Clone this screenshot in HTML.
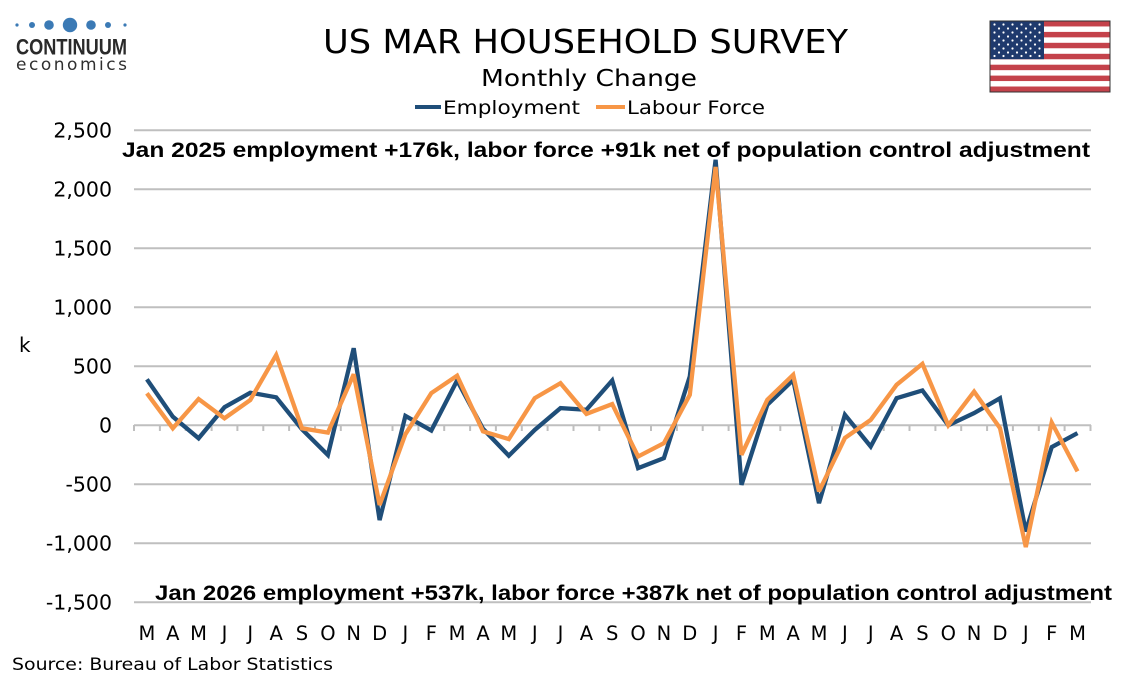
<!DOCTYPE html>
<html>
<head>
<meta charset="utf-8">
<style>
html,body{margin:0;padding:0;background:#fff;}
svg{display:block;}
</style>
</head>
<body>
<svg width="1134" height="680" viewBox="0 0 1134 680" xmlns="http://www.w3.org/2000/svg">
<rect width="1134" height="680" fill="#fff"/>

<!-- Logo -->
<g fill="#3b7ab5">
<circle cx="17" cy="25" r="1.6"/>
<circle cx="32" cy="25" r="3"/>
<circle cx="49" cy="25" r="4.8"/>
<circle cx="70" cy="25" r="7.2"/>
<circle cx="91" cy="25" r="4.8"/>
<circle cx="108" cy="25" r="3"/>
<circle cx="125" cy="25" r="1.6"/>
</g>
<text x="16" y="54.5" font-family="Liberation Sans, sans-serif" font-weight="bold" font-size="22" fill="#2a2a2a" textLength="111" lengthAdjust="spacingAndGlyphs">CONTINUUM</text>
<text x="16" y="70" font-family="DejaVu Sans, sans-serif" font-size="17" fill="#2f2f2f" textLength="111" lengthAdjust="spacing">economics</text>

<!-- Flag -->
<g>
<rect x="990" y="21" width="120" height="71" fill="#fff" stroke="#333" stroke-width="1"/>
<g fill="#c4424b">
<rect x="990" y="21" width="120" height="5.46"/>
<rect x="990" y="31.9" width="120" height="5.46"/>
<rect x="990" y="42.8" width="120" height="5.46"/>
<rect x="990" y="53.8" width="120" height="5.46"/>
<rect x="990" y="64.7" width="120" height="5.46"/>
<rect x="990" y="75.6" width="120" height="5.46"/>
<rect x="990" y="86.5" width="120" height="5.46"/>
</g>
<rect x="990" y="21" width="54" height="38.2" fill="#1f3a6d"/>
<g fill="#fff">
<circle cx="994.5" cy="24.5" r="1.1"/><circle cx="1003.5" cy="24.5" r="1.1"/><circle cx="1012.5" cy="24.5" r="1.1"/><circle cx="1021.5" cy="24.5" r="1.1"/><circle cx="1030.5" cy="24.5" r="1.1"/><circle cx="1039.5" cy="24.5" r="1.1"/>
<circle cx="999" cy="28.5" r="1.1"/><circle cx="1008" cy="28.5" r="1.1"/><circle cx="1017" cy="28.5" r="1.1"/><circle cx="1026" cy="28.5" r="1.1"/><circle cx="1035" cy="28.5" r="1.1"/>
<circle cx="994.5" cy="32.5" r="1.1"/><circle cx="1003.5" cy="32.5" r="1.1"/><circle cx="1012.5" cy="32.5" r="1.1"/><circle cx="1021.5" cy="32.5" r="1.1"/><circle cx="1030.5" cy="32.5" r="1.1"/><circle cx="1039.5" cy="32.5" r="1.1"/>
<circle cx="999" cy="36.5" r="1.1"/><circle cx="1008" cy="36.5" r="1.1"/><circle cx="1017" cy="36.5" r="1.1"/><circle cx="1026" cy="36.5" r="1.1"/><circle cx="1035" cy="36.5" r="1.1"/>
<circle cx="994.5" cy="40.5" r="1.1"/><circle cx="1003.5" cy="40.5" r="1.1"/><circle cx="1012.5" cy="40.5" r="1.1"/><circle cx="1021.5" cy="40.5" r="1.1"/><circle cx="1030.5" cy="40.5" r="1.1"/><circle cx="1039.5" cy="40.5" r="1.1"/>
<circle cx="999" cy="44.5" r="1.1"/><circle cx="1008" cy="44.5" r="1.1"/><circle cx="1017" cy="44.5" r="1.1"/><circle cx="1026" cy="44.5" r="1.1"/><circle cx="1035" cy="44.5" r="1.1"/>
<circle cx="994.5" cy="48.5" r="1.1"/><circle cx="1003.5" cy="48.5" r="1.1"/><circle cx="1012.5" cy="48.5" r="1.1"/><circle cx="1021.5" cy="48.5" r="1.1"/><circle cx="1030.5" cy="48.5" r="1.1"/><circle cx="1039.5" cy="48.5" r="1.1"/>
<circle cx="999" cy="52.5" r="1.1"/><circle cx="1008" cy="52.5" r="1.1"/><circle cx="1017" cy="52.5" r="1.1"/><circle cx="1026" cy="52.5" r="1.1"/><circle cx="1035" cy="52.5" r="1.1"/>
<circle cx="994.5" cy="56" r="1.1"/><circle cx="1003.5" cy="56" r="1.1"/><circle cx="1012.5" cy="56" r="1.1"/><circle cx="1021.5" cy="56" r="1.1"/><circle cx="1030.5" cy="56" r="1.1"/><circle cx="1039.5" cy="56" r="1.1"/>
</g>
<rect x="990" y="21" width="120" height="71" fill="none" stroke="#333" stroke-width="1"/>
</g>

<!-- Titles -->
<text x="585.5" y="53" text-anchor="middle" font-family="DejaVu Sans, Verdana, sans-serif" font-size="33" fill="#000" textLength="525" lengthAdjust="spacingAndGlyphs">US MAR HOUSEHOLD SURVEY</text>
<text x="589" y="86" text-anchor="middle" font-family="DejaVu Sans, Verdana, sans-serif" font-size="23" fill="#000" textLength="216" lengthAdjust="spacingAndGlyphs">Monthly Change</text>

<!-- Legend -->
<line x1="415" y1="107" x2="441" y2="107" stroke="#1f4e79" stroke-width="4"/>
<text x="443" y="114" font-family="DejaVu Sans, Verdana, sans-serif" font-size="19" fill="#000" textLength="137" lengthAdjust="spacingAndGlyphs">Employment</text>
<line x1="596" y1="107" x2="625" y2="107" stroke="#f79646" stroke-width="4"/>
<text x="627" y="114" font-family="DejaVu Sans, Verdana, sans-serif" font-size="19" fill="#000" textLength="138" lengthAdjust="spacingAndGlyphs">Labour Force</text>

<!-- Gridlines -->
<g stroke="#bfbfbf" stroke-width="2">
<line x1="134" y1="130.3" x2="1091" y2="130.3"/>
<line x1="134" y1="189.3" x2="1091" y2="189.3"/>
<line x1="134" y1="248.3" x2="1091" y2="248.3"/>
<line x1="134" y1="307.3" x2="1091" y2="307.3"/>
<line x1="134" y1="366.3" x2="1091" y2="366.3"/>
<line x1="134" y1="425.3" x2="1091" y2="425.3"/>
<line x1="134" y1="484.3" x2="1091" y2="484.3"/>
<line x1="134" y1="543.3" x2="1091" y2="543.3"/>
<line x1="134" y1="602.3" x2="1091" y2="602.3"/>
</g>
<!-- Tick marks on zero axis -->
<g stroke="#bfbfbf" stroke-width="2">
<line x1="134" y1="425" x2="134" y2="431"/>
<line x1="159.9" y1="425" x2="159.9" y2="431"/>
<line x1="185.7" y1="425" x2="185.7" y2="431"/>
<line x1="211.6" y1="425" x2="211.6" y2="431"/>
<line x1="237.4" y1="425" x2="237.4" y2="431"/>
<line x1="263.3" y1="425" x2="263.3" y2="431"/>
<line x1="289.1" y1="425" x2="289.1" y2="431"/>
<line x1="315" y1="425" x2="315" y2="431"/>
<line x1="340.8" y1="425" x2="340.8" y2="431"/>
<line x1="366.7" y1="425" x2="366.7" y2="431"/>
<line x1="392.5" y1="425" x2="392.5" y2="431"/>
<line x1="418.4" y1="425" x2="418.4" y2="431"/>
<line x1="444.2" y1="425" x2="444.2" y2="431"/>
<line x1="470.1" y1="425" x2="470.1" y2="431"/>
<line x1="495.9" y1="425" x2="495.9" y2="431"/>
<line x1="521.8" y1="425" x2="521.8" y2="431"/>
<line x1="547.6" y1="425" x2="547.6" y2="431"/>
<line x1="573.5" y1="425" x2="573.5" y2="431"/>
<line x1="599.3" y1="425" x2="599.3" y2="431"/>
<line x1="625.2" y1="425" x2="625.2" y2="431"/>
<line x1="651" y1="425" x2="651" y2="431"/>
<line x1="676.9" y1="425" x2="676.9" y2="431"/>
<line x1="702.7" y1="425" x2="702.7" y2="431"/>
<line x1="728.6" y1="425" x2="728.6" y2="431"/>
<line x1="754.4" y1="425" x2="754.4" y2="431"/>
<line x1="780.3" y1="425" x2="780.3" y2="431"/>
<line x1="806.1" y1="425" x2="806.1" y2="431"/>
<line x1="832" y1="425" x2="832" y2="431"/>
<line x1="857.8" y1="425" x2="857.8" y2="431"/>
<line x1="883.7" y1="425" x2="883.7" y2="431"/>
<line x1="909.5" y1="425" x2="909.5" y2="431"/>
<line x1="935.4" y1="425" x2="935.4" y2="431"/>
<line x1="961.2" y1="425" x2="961.2" y2="431"/>
<line x1="987.1" y1="425" x2="987.1" y2="431"/>
<line x1="1012.9" y1="425" x2="1012.9" y2="431"/>
<line x1="1038.8" y1="425" x2="1038.8" y2="431"/>
<line x1="1064.6" y1="425" x2="1064.6" y2="431"/>
<line x1="1090.5" y1="425" x2="1090.5" y2="431"/>
</g>

<!-- Y axis labels -->
<g font-family="DejaVu Sans, Verdana, sans-serif" font-size="20.5" fill="#000" text-anchor="end">
<text x="112" y="137.6">2,500</text>
<text x="112" y="196.6">2,000</text>
<text x="112" y="255.6">1,500</text>
<text x="112" y="314.6">1,000</text>
<text x="112" y="373.6">500</text>
<text x="112" y="432.6">0</text>
<text x="112" y="491.6">-500</text>
<text x="112" y="550.6">-1,000</text>
<text x="112" y="609.6">-1,500</text>
</g>
<text x="19" y="352" font-family="DejaVu Sans, Verdana, sans-serif" font-size="20" fill="#000">k</text>

<!-- X axis labels -->
<g font-family="DejaVu Sans, Verdana, sans-serif" font-size="19.5" fill="#000" text-anchor="middle">
<text x="146.9" y="640">M</text>
<text x="172.8" y="640">A</text>
<text x="198.6" y="640">M</text>
<text x="224.5" y="640">J</text>
<text x="250.3" y="640">J</text>
<text x="276.2" y="640">A</text>
<text x="302" y="640">S</text>
<text x="327.9" y="640">O</text>
<text x="353.7" y="640">N</text>
<text x="379.6" y="640">D</text>
<text x="405.4" y="640">J</text>
<text x="431.3" y="640">F</text>
<text x="457.1" y="640">M</text>
<text x="483" y="640">A</text>
<text x="508.8" y="640">M</text>
<text x="534.7" y="640">J</text>
<text x="560.5" y="640">J</text>
<text x="586.4" y="640">A</text>
<text x="612.2" y="640">S</text>
<text x="638.1" y="640">O</text>
<text x="663.9" y="640">N</text>
<text x="689.8" y="640">D</text>
<text x="715.6" y="640">J</text>
<text x="741.5" y="640">F</text>
<text x="767.3" y="640">M</text>
<text x="793.2" y="640">A</text>
<text x="819" y="640">M</text>
<text x="844.9" y="640">J</text>
<text x="870.7" y="640">J</text>
<text x="896.6" y="640">A</text>
<text x="922.4" y="640">S</text>
<text x="948.3" y="640">O</text>
<text x="974.1" y="640">N</text>
<text x="1000" y="640">D</text>
<text x="1025.8" y="640">J</text>
<text x="1051.7" y="640">F</text>
<text x="1077.5" y="640">M</text>
</g>

<!-- Employment series -->
<polyline fill="none" stroke="#1f4e79" stroke-width="4.3" stroke-linejoin="miter" stroke-miterlimit="3" points="146.9,379.3 172.8,416.7 198.6,438.3 224.5,407.2 250.3,392.7 276.2,397.3 302,429.3 327.9,455 353.7,348.2 379.6,520.1 405.4,415.9 431.3,430.5 457.1,380.5 483,428.8 508.8,455.7 534.7,430 560.5,408.1 586.4,409.8 612.2,380.5 638.1,468.1 663.9,458.1 689.8,376.4 715.6,159.8 741.5,484.8 767.3,404.8 793.2,379.9 819,503.2 844.9,414.8 870.7,446.5 896.6,398.2 922.4,390.5 948.3,425.3 974.1,413.1 1000,398.2 1025.8,531.5 1051.7,447.1 1077.5,433.1"/>

<!-- Labour Force series -->
<polyline fill="none" stroke="#f79646" stroke-width="4.3" stroke-linejoin="miter" stroke-miterlimit="3" points="146.9,393.3 172.8,428.3 198.6,399 224.5,418.3 250.3,400 276.2,355 302,428.3 327.9,432.6 353.7,374.3 379.6,505 405.4,434.2 431.3,393.1 457.1,375.7 483,431.4 508.8,439.1 534.7,398.2 560.5,383.2 586.4,413.9 612.2,404.1 638.1,456.5 663.9,443.1 689.8,394.9 715.6,166.9 741.5,454.8 767.3,399.8 793.2,374.8 819,491.4 844.9,438 870.7,419.9 896.6,384.8 922.4,363.8 948.3,425.3 974.1,391.6 1000,428.1 1025.8,547.1 1051.7,422.5 1077.5,471.4"/>

<!-- Annotations -->
<text x="122" y="157" font-family="Liberation Sans, Arial, sans-serif" font-weight="bold" font-size="21" fill="#000" textLength="968" lengthAdjust="spacingAndGlyphs">Jan 2025 employment +176k, labor force +91k net of population control adjustment</text>
<text x="155" y="600" font-family="Liberation Sans, Arial, sans-serif" font-weight="bold" font-size="21" fill="#000" textLength="957" lengthAdjust="spacingAndGlyphs">Jan 2026 employment +537k, labor force +387k net of population control adjustment</text>

<!-- Source -->
<text x="12" y="670" font-family="DejaVu Sans, Verdana, sans-serif" font-size="17" fill="#000" textLength="321" lengthAdjust="spacingAndGlyphs">Source: Bureau of Labor Statistics</text>
</svg>
</body>
</html>
